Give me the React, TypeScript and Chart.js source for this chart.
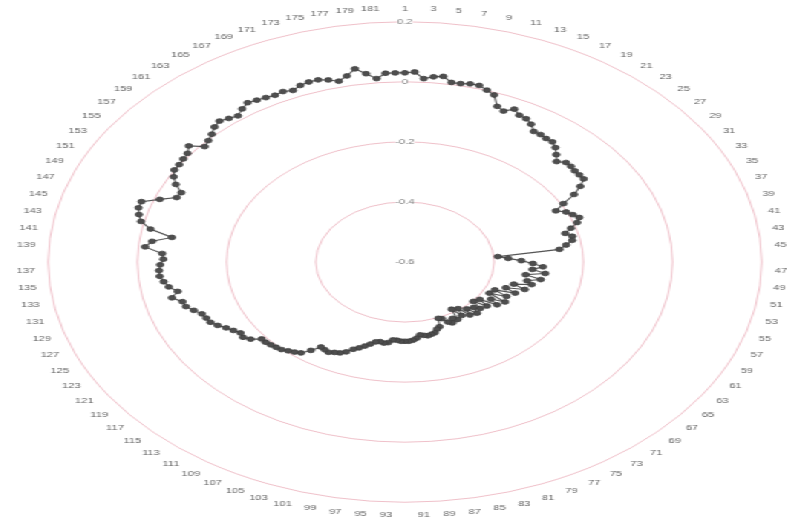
import { useEffect, useRef } from 'react';
import { Chart, registerables } from 'chart.js';

Chart.register(...registerables);

// Category labels around the dial (1..182, every other one printed)
const angleLabels: string[] = Array.from({ length: 182 }, (_, i) => String(i + 1));

// Radial scale
const radialMin = -0.6;
const radialMax = 0.2;
const radialStep = 0.2;

// Series values, read clockwise from the top
const seriesValues: number[] = [
  0.030, 0.033, 0.012, 0.020, 0.024, 0.007, 0.007, 0.011, 0.011, 0.001,
  -0.009, -0.042, -0.051, -0.035, -0.048, -0.051, -0.061, -0.078, -0.078, -0.081,
  -0.081, -0.091, -0.107, -0.123, -0.110, -0.110, -0.113, -0.113, -0.113, -0.133,
  -0.159, -0.195, -0.221, -0.202, -0.192, -0.182, -0.192, -0.211, -0.228, -0.215,
  -0.218, -0.234, -0.251, -0.391, -0.368, -0.339, -0.313, -0.290, -0.313, -0.283,
  -0.326, -0.290, -0.319, -0.306, -0.345, -0.316, -0.358, -0.332, -0.378, -0.345,
  -0.384, -0.339, -0.371, -0.349, -0.391, -0.365, -0.398, -0.371, -0.384, -0.365,
  -0.391, -0.371, -0.404, -0.381, -0.411, -0.375, -0.384, -0.371, -0.378, -0.394,
  -0.398, -0.371, -0.365, -0.355, -0.352, -0.349, -0.352, -0.355, -0.345, -0.339,
  -0.336, -0.336, -0.336, -0.339, -0.339, -0.329, -0.326, -0.329, -0.326, -0.316,
  -0.306, -0.296, -0.287, -0.273, -0.264, -0.260, -0.254, -0.257, -0.260, -0.238,
  -0.218, -0.211, -0.205, -0.198, -0.195, -0.192, -0.189, -0.189, -0.169, -0.159,
  -0.162, -0.153, -0.143, -0.130, -0.120, -0.117, -0.113, -0.100, -0.087, -0.084,
  -0.064, -0.081, -0.064, -0.055, -0.048, -0.048, -0.051, -0.058, -0.055, -0.015,
  -0.029, -0.071, -0.019, 0.007, 0.017, 0.024, 0.024, -0.012, -0.045, -0.048,
  -0.025, -0.009, 0.001, 0.001, 0.004, 0.007, 0.020, -0.009, -0.002, 0.007,
  0.020, 0.027, 0.020, 0.014, 0.027, 0.037, 0.033, 0.030, 0.027, 0.030,
  0.024, 0.033, 0.037, 0.037, 0.030, 0.020, 0.033, 0.053, 0.033, 0.014,
  0.030, 0.030,
];

const CANVAS_W = 530;
const CANVAS_H = 521;
const STRETCH_X = 787 / CANVAS_W;

export default function App() {
  const canvasRef = useRef<HTMLCanvasElement | null>(null);

  useEffect(() => {
    document.body.style.margin = '0';
    document.body.style.overflow = 'hidden';
    const canvas = canvasRef.current;
    if (!canvas) return;
    const chart = new Chart(canvas, {
      type: 'radar',
      data: {
        labels: angleLabels,
        datasets: [
          {
            data: seriesValues,
            borderColor: '#555555',
            borderWidth: 1.1,
            backgroundColor: 'rgba(0,0,0,0)',
            fill: false,
            pointRadius: 2.4,
            pointBackgroundColor: '#4f4f4f',
            pointBorderColor: '#3d3d3d',
            pointBorderWidth: 0.8,
          },
        ],
      },
      options: {
        responsive: false,
        animation: false,
        layout: { padding: { top: 4, left: 6, right: 0, bottom: 0 } },
        plugins: {
          legend: { display: false },
          tooltip: { enabled: false },
        },
        scales: {
          r: {
            min: radialMin,
            max: radialMax,
            ticks: {
              stepSize: radialStep,
              color: '#808080',
              font: { size: 7.5, family: 'Liberation Sans, Arial, sans-serif' },
              backdropColor: '#ffffff',
              backdropPadding: 0,
            },
            grid: {
              circular: true,
              color: 'rgba(226,140,156,0.55)',
              lineWidth: 1,
            },
            angleLines: { display: false },
            pointLabels: {
              color: '#666',
              padding: 5,
              font: { size: 7.5, family: 'Liberation Sans, Arial, sans-serif' },
              callback: (label: string, index: number) => (index % 2 === 0 ? label : ''),
            },
          },
        },
      },
    });
    return () => chart.destroy();
  }, []);

  return (
    <div
      style={{
        position: 'absolute',
        left: 4,
        top: 0,
        width: CANVAS_W,
        height: CANVAS_H,
        transform: `scaleX(${STRETCH_X})`,
        transformOrigin: '0 0',
        background: '#fff',
      }}
    >
      <canvas
        ref={canvasRef}
        width={CANVAS_W}
        height={CANVAS_H}
        style={{ display: 'block', width: CANVAS_W, height: CANVAS_H }}
      />
    </div>
  );
}
